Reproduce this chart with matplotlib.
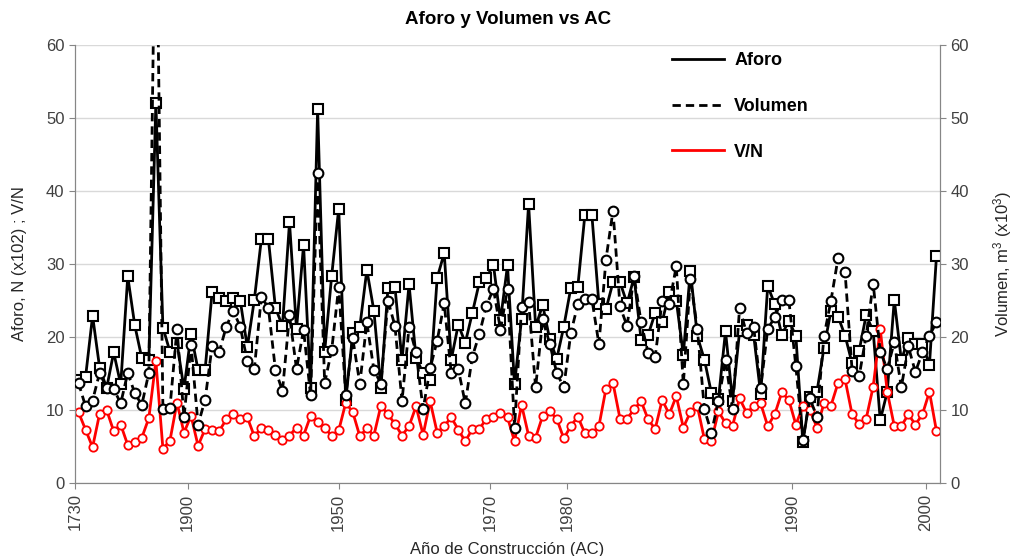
import matplotlib.pyplot as plt
import numpy as np
from matplotlib.lines import Line2D

plt.rcParams['font.family'] = ['Liberation Sans', 'DejaVu Sans']
plt.rcParams['mathtext.default'] = 'regular'

# Datos
aforo = [14.1, 14.5, 22.9, 15.8, 13.0, 17.9, 13.5, 28.3, 21.6, 17.1,
         16.8, 52.1, 21.3, 18.0, 19.2, 12.9, 20.4, 15.5, 15.5, 26.2,
         25.4, 25.0, 25.3, 25.0, 18.6, 25.1, 33.4, 33.4, 24.0, 21.5,
         35.7, 21.1, 32.6, 13.0, 51.2, 18.0, 28.4, 37.6, 11.4, 20.5,
         21.4, 29.2, 23.6, 13.0, 26.7, 26.8, 16.8, 27.2, 17.1, 15.1,
         14.1, 28.1, 31.5, 16.9, 21.7, 19.2, 23.3, 27.5, 28.1, 29.9,
         22.3, 29.8, 13.5, 22.5, 38.2, 21.4, 24.4, 19.7, 17.0, 21.4,
         26.7, 26.9, 36.7, 36.7, 24.5, 23.8, 27.5, 27.5, 24.6, 28.2,
         19.6, 20.3, 23.3, 22.1, 26.1, 25.0, 17.6, 29.1, 20.1, 16.9,
         12.3, 11.5, 20.8, 11.3, 20.8, 21.7, 20.3, 12.2, 27.0, 24.5,
         20.3, 22.2, 20.2, 5.6, 11.8, 12.5, 18.5, 23.6, 22.8, 20.2,
         16.4, 18.1, 23.0, 20.8, 8.6, 12.5, 25.1, 16.8, 19.8, 19.0,
         19.0, 16.2, 31.1]

volumen = [13.7, 10.5, 11.3, 15.1, 13.0, 12.9, 10.9, 15.1, 12.3, 10.7,
           15.1, 87.0, 10.1, 10.3, 21.1, 9.0, 18.9, 8.0, 11.4, 18.8,
           17.9, 21.4, 23.6, 21.4, 16.7, 15.6, 25.5, 24.0, 15.5, 12.6,
           23.0, 15.6, 21.0, 12.0, 42.4, 13.7, 18.2, 26.9, 12.0, 19.8,
           13.6, 22.0, 15.5, 13.6, 25.0, 21.5, 11.2, 21.4, 17.9, 10.1,
           15.7, 19.5, 24.6, 15.1, 15.6, 10.9, 17.3, 20.4, 24.3, 26.6,
           21.0, 26.6, 7.6, 24.1, 24.8, 13.1, 22.4, 19.1, 15.1, 13.1,
           20.5, 24.5, 25.2, 25.2, 19.0, 30.6, 37.3, 24.2, 21.5, 28.3,
           22.0, 17.8, 17.3, 25.0, 24.5, 29.7, 13.5, 27.9, 21.1, 10.1,
           6.9, 11.3, 16.8, 10.1, 24.0, 20.5, 21.4, 13.0, 21.1, 22.7,
           25.1, 25.1, 16.0, 5.9, 11.6, 9.0, 20.1, 25.0, 30.8, 28.9,
           15.4, 14.6, 20.2, 27.3, 18.0, 15.6, 19.3, 13.1, 18.7, 15.2,
           17.9, 20.2, 22.0]

vn = [9.7, 7.3, 4.9, 9.5, 10.0, 7.1, 8.0, 5.2, 5.6, 6.2,
      8.9, 16.7, 4.7, 5.8, 11.0, 6.9, 9.2, 5.1, 7.4, 7.2,
      7.1, 8.7, 9.4, 8.7, 9.0, 6.4, 7.6, 7.2, 6.6, 5.9,
      6.5, 7.6, 6.5, 9.2, 8.3, 7.5, 6.5, 7.2, 11.0, 9.7,
      6.4, 7.5, 6.5, 10.6, 9.4, 8.1, 6.5, 7.8, 10.5, 6.6,
      11.2, 6.9, 7.8, 9.0, 7.3, 5.7, 7.4, 7.4, 8.8, 9.0,
      9.6, 9.0, 5.7, 10.7, 6.5, 6.2, 9.2, 9.8, 8.8, 6.1,
      7.8, 9.1, 6.8, 6.8, 7.8, 12.9, 13.7, 8.8, 8.8, 10.1,
      11.2, 8.7, 7.4, 11.4, 9.4, 11.9, 7.6, 9.7, 10.5, 6.0,
      5.8, 9.8, 8.2, 7.8, 11.6, 9.6, 10.5, 10.9, 7.8, 9.4,
      12.4, 11.4, 8.0, 10.5, 10.0, 7.6, 10.9, 10.6, 13.7, 14.2,
      9.4, 8.1, 8.8, 13.2, 21.1, 12.5, 7.8, 7.8, 9.4, 8.0,
      9.4, 12.5, 7.1]

anios = ['1730', '1900', '1950', '1970', '1980', '1990', '2000']
pos_anios = [-0.5, 15.5, 37, 58.5, 69.5, 101.5, 120.5]

x = np.arange(len(aforo))
gris = '#868686'

fig = plt.figure(figsize=(10.17, 5.56), dpi=100)
ax = fig.add_axes([75 / 1017, 1 - 483 / 556, 865 / 1017, 438 / 556])
ax2 = ax.twinx()

ax.plot(x, aforo, color='black', lw=2, marker='s', ms=6.5, mfc='white',
        mec='black', mew=1.5, zorder=3)
ax.plot(x, vn, color='red', lw=2, marker='o', ms=6, mfc='white',
        mec='red', mew=1.3, zorder=4)
ax2.plot(x, volumen, color='black', lw=2, ls=(0, (3, 1.8)), marker='o', ms=7,
         mfc='white', mec='black', mew=1.5, zorder=3)

for a in (ax, ax2):
    a.set_ylim(0, 60)
    a.set_yticks(range(0, 61, 10))
    a.set_xlim(-0.5, len(aforo) - 0.5)
    a.spines['top'].set_visible(False)
    for s in ('left', 'right', 'bottom'):
        a.spines[s].set_color(gris)
    a.tick_params(axis='y', labelsize=12, colors=gris, labelcolor='#404040', length=4)

ax.yaxis.grid(True, color='#d9d9d9', lw=1)
ax.set_axisbelow(True)
ax.set_xticks(pos_anios)
ax.set_xticklabels(anios, rotation=90, fontsize=12, color='#404040')
ax.tick_params(axis='x', colors=gris, labelcolor='#404040', length=4)

ax.set_ylabel('Aforo, N (x102) ; V/N', fontsize=12, color='#262626', labelpad=14)
ax2.set_ylabel('Volumen, m$^3$ (x10$^3$)', fontsize=12, color='#262626', labelpad=16)
ax.set_xlabel('Año de Construcción (AC)', fontsize=12, color='#262626', labelpad=8)
fig.suptitle('Aforo y Volumen vs AC', fontsize=13.5, fontweight='bold', y=0.98)

handles = [Line2D([], [], color='black', lw=2),
           Line2D([], [], color='black', lw=2, ls=(0, (3, 1.8))),
           Line2D([], [], color='red', lw=2)]
leg = fig.legend(handles, ['Aforo', 'Volumen', 'V/N'], loc='upper left',
                 bbox_to_anchor=(672 / 1017, 1 - 52 / 556), frameon=False,
                 prop={'weight': 'bold', 'size': 13}, handlelength=2.9,
                 handletextpad=0.55, labelspacing=1.6, borderpad=0, borderaxespad=0)

fig.savefig('out.png', dpi=100)
